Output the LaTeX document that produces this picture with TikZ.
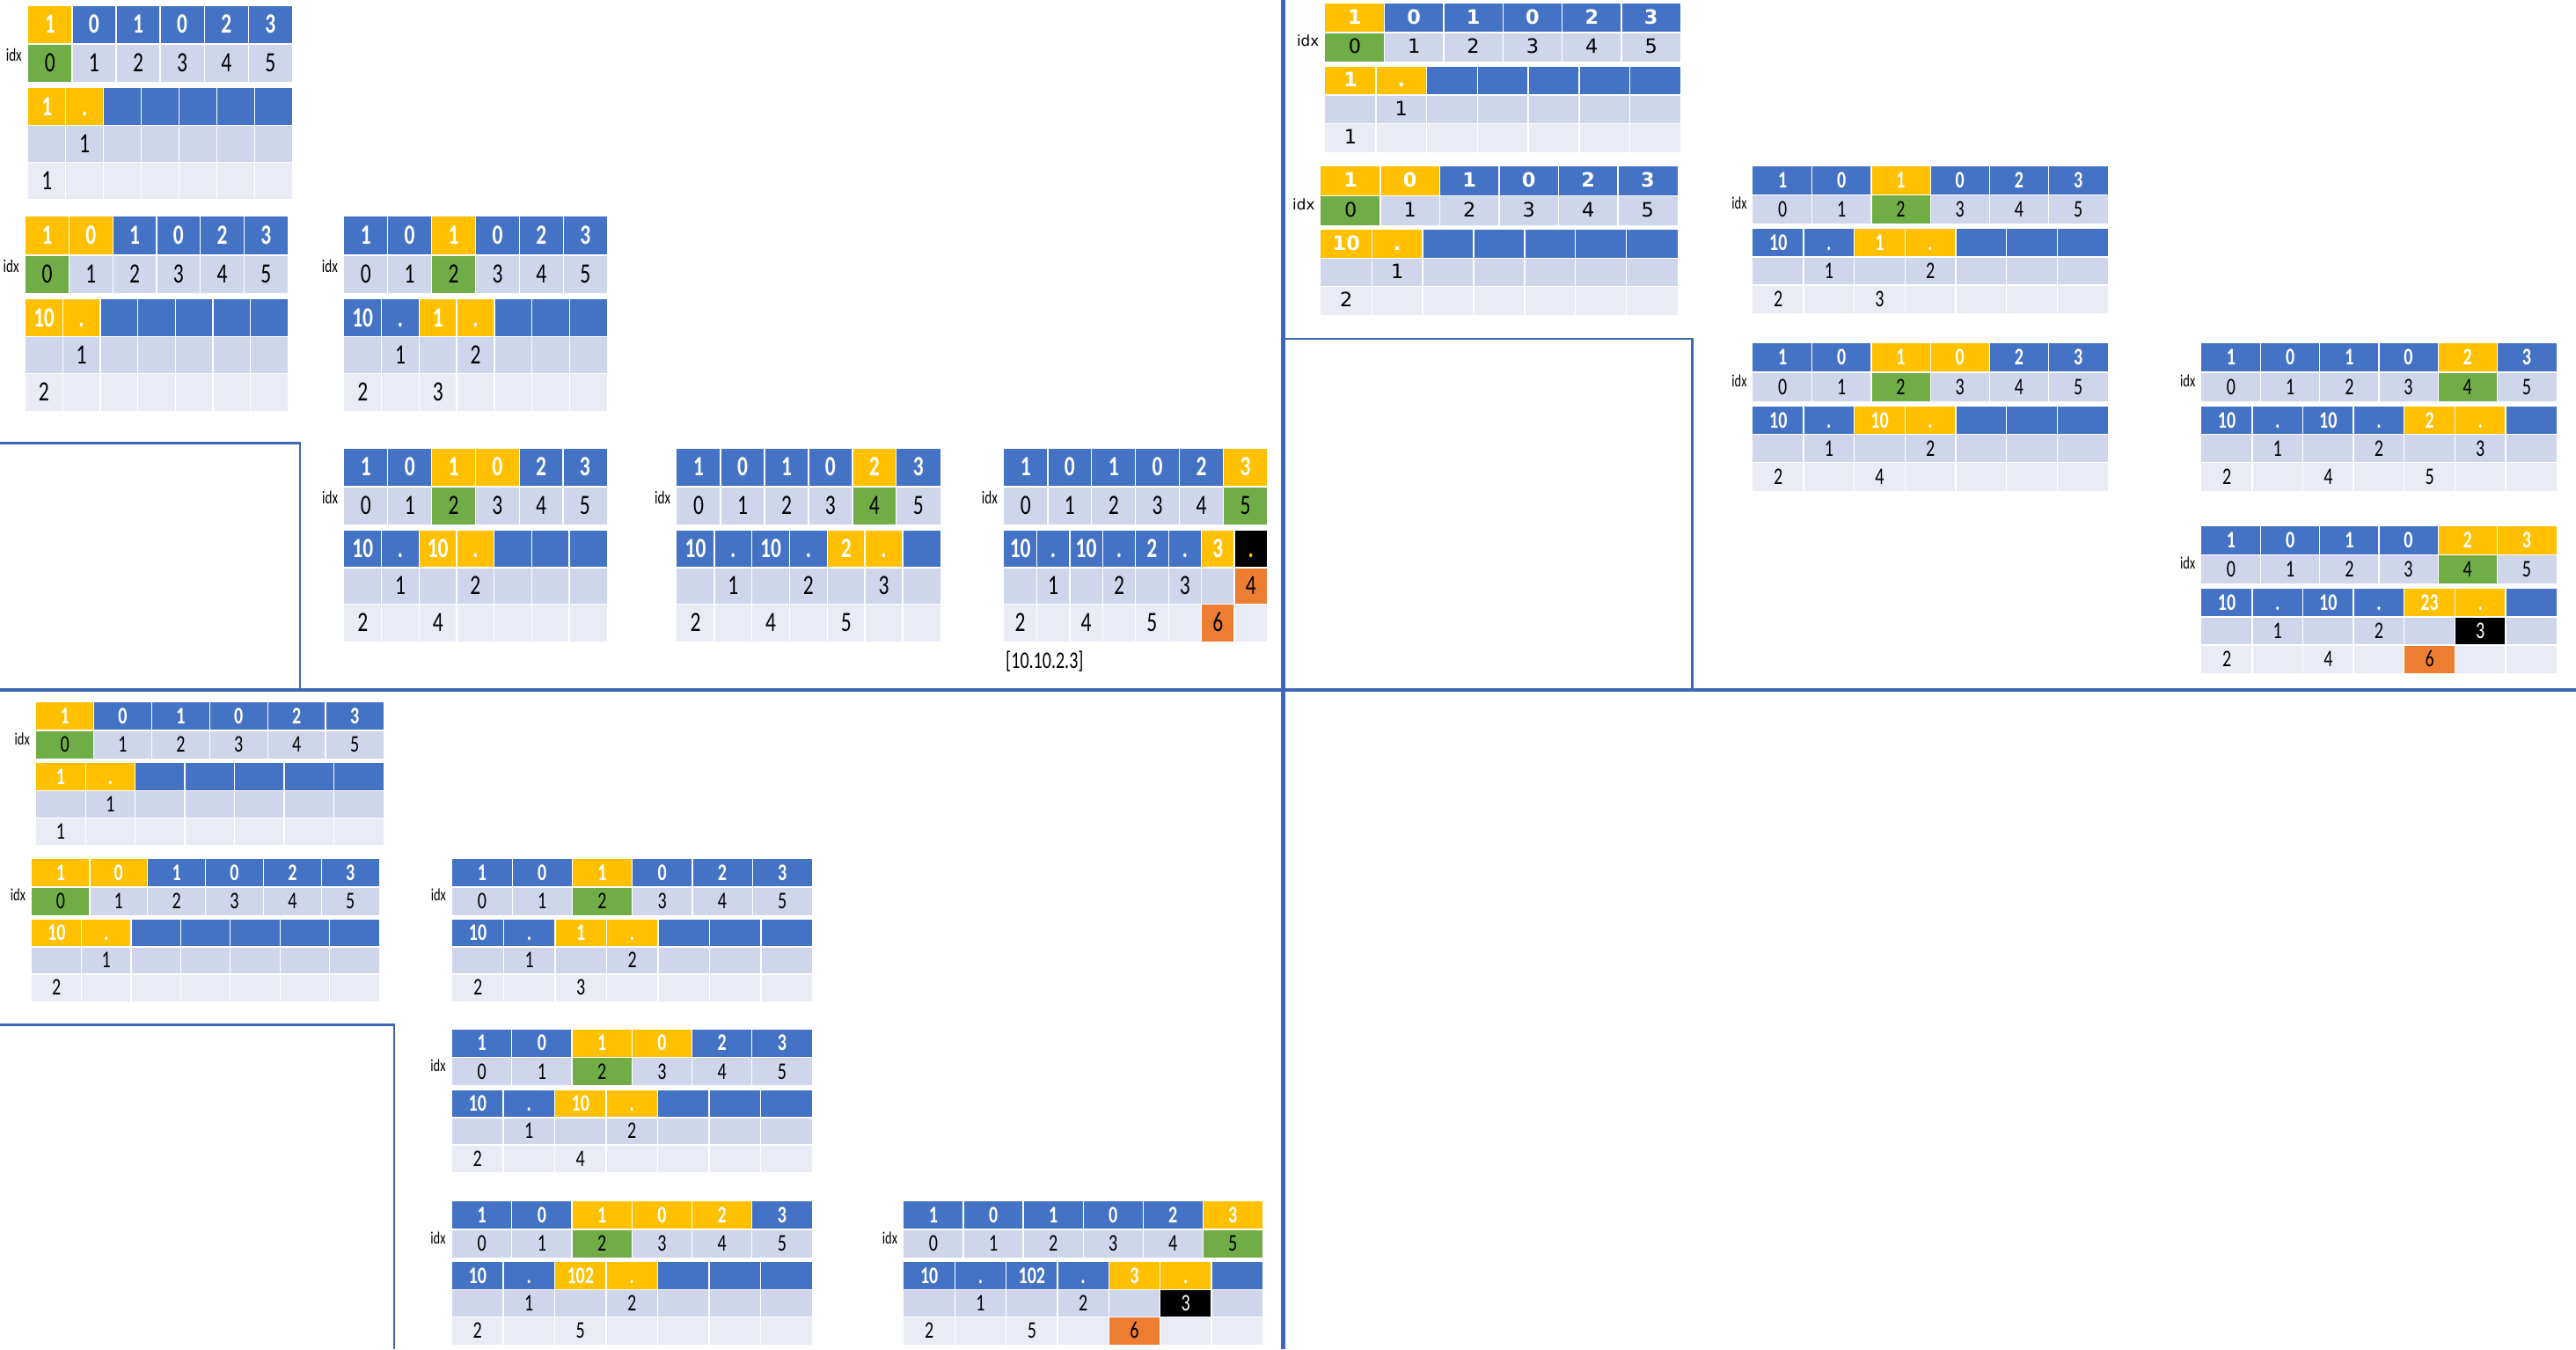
\documentclass[tikz,border=0pt]{standalone}
\usepackage{fontspec}
\newfontfamily\calF[FakeStretch=0.74]{Carlito}
\newfontfamily\dvF{DejaVu Sans}
\definecolor{hb}{HTML}{4472C4}
\definecolor{yl}{HTML}{FFC000}
\definecolor{gr}{HTML}{70AD47}
\definecolor{org}{HTML}{ED7D31}
\definecolor{bA}{HTML}{CFD5EA}
\definecolor{bB}{HTML}{E9EBF5}
\definecolor{ln}{HTML}{3E66B6}
% geometry: name, x, y, width, row height, cols in rows 3-5, font size, font, idx size
\newcommand\Geo[9]{\def\BlkN{#1}\def\BlkX{#2}\def\BlkY{#3}\def\BlkW{#4}\def\BlkH{#5}\def\BlkNC{#6}\def\BlkFs{#7}\def\BlkFont{#8}\def\BlkIdx{#9}}
% content: yellow cols row1, green col row2, row3 spec, row4 spec, row5 spec
\newcommand\Blk[5]{%
\begin{scope}[shift={(\BlkX,\BlkY)}]
  \pgfmathsetmacro\CellW{\BlkW/6}
  \pgfmathsetmacro\CellV{\BlkW/\BlkNC}
  \pgfmathsetmacro\RowB{1.05*\BlkH}
  \pgfmathsetmacro\RowC{2.22*\BlkH}
  \pgfmathsetmacro\RowD{3.22*\BlkH}
  \pgfmathsetmacro\RowE{4.22*\BlkH}
  \pgfmathsetmacro\RowF{5.22*\BlkH}
  \pgfmathsetmacro\BaseOff{0.5*\BlkH+0.31*\BlkFs}
  \pgfmathtruncatemacro\NSep{\BlkNC-1}
  % backgrounds
  \fill[hb] (0,0) rectangle (\BlkW,\BlkH);
  \foreach \i in {#1} {\fill[yl] ({(\i-1)*\CellW},0) rectangle ({\i*\CellW},\BlkH);}
  \fill[bA] (0,\RowB) rectangle (\BlkW,{\RowB+\BlkH});
  \fill[gr] ({(#2-1)*\CellW},\RowB) rectangle ({#2*\CellW},{\RowB+\BlkH});
  \fill[hb] (0,\RowC) rectangle (\BlkW,\RowD);
  \fill[bA] (0,\RowD) rectangle (\BlkW,\RowE);
  \fill[bB] (0,\RowE) rectangle (\BlkW,\RowF);
  \foreach \qc/\qf/\qt/\qk in {#3} {\fill[\qf] ({(\qc-1)*\CellV},\RowC) rectangle ({\qc*\CellV},\RowD);}
  \foreach \qc/\qf/\qt/\qk in {#4} {\fill[\qf] ({(\qc-1)*\CellV},\RowD) rectangle ({\qc*\CellV},\RowE);}
  \foreach \qc/\qf/\qt/\qk in {#5} {\fill[\qf] ({(\qc-1)*\CellV},\RowE) rectangle ({\qc*\CellV},\RowF);}
  % separators
  \foreach \i in {1,...,5} {\draw[sep] ({\i*\CellW},0) -- ({\i*\CellW},\BlkH) ({\i*\CellW},\RowB) -- ({\i*\CellW},{\RowB+\BlkH});}
  \foreach \i in {1,...,\NSep} {\draw[sep] ({\i*\CellV},\RowC) -- ({\i*\CellV},\RowF);}
  \draw[sep] (0,\RowD) -- (\BlkW,\RowD) (0,\RowE) -- (\BlkW,\RowE);
  % texts
  \foreach \d [count=\i] in {1,0,1,0,2,3}
    \node[celltxt, font=\BlkFont\bfseries\fontsize{\BlkFs}{\BlkFs}\selectfont, text=white] (\BlkN-a\i) at ({(\i-0.5)*\CellW},\BaseOff) {\d};
  \foreach \d [count=\i] in {0,...,5}
    \node[celltxt, font=\BlkFont\fontsize{\BlkFs}{\BlkFs}\selectfont] (\BlkN-b\i) at ({(\i-0.5)*\CellW},{\RowB+\BaseOff}) {\d};
  \node[anchor=east, inner sep=0pt, font=\BlkFont\fontsize{\BlkIdx}{\BlkIdx}\selectfont] (\BlkN-idx) at (-3.5,{\RowB+0.27*\BlkH}) {idx};
  \foreach \qc/\qf/\qt/\qk in {#3}
    \node[celltxt, font=\BlkFont\bfseries\fontsize{\BlkFs}{\BlkFs}\selectfont, text=\qk] (\BlkN-c\qc) at ({(\qc-0.5)*\CellV},{\RowC+\BaseOff}) {\qt};
  \foreach \qc/\qf/\qt/\qk in {#4}
    \node[celltxt, font=\BlkFont\fontsize{\BlkFs}{\BlkFs}\selectfont, text=\qk] (\BlkN-d\qc) at ({(\qc-0.5)*\CellV},{\RowD+\BaseOff}) {\qt};
  \foreach \qc/\qf/\qt/\qk in {#5}
    \node[celltxt, font=\BlkFont\fontsize{\BlkFs}{\BlkFs}\selectfont, text=\qk] (\BlkN-e\qc) at ({(\qc-0.5)*\CellV},{\RowE+\BaseOff}) {\qt};
\end{scope}}
% the recurring states
\newcommand\StA{\Blk{1}{1}{1/yl/1/white,2/yl/./white}{2/bA/1/black}{1/bB/1/black}}
\newcommand\StB{\Blk{1,2}{1}{1/yl/10/white,2/yl/./white}{2/bA/1/black}{1/bB/2/black}}
\newcommand\StC{\Blk{3}{3}{1/hb/10/white,2/hb/./white,3/yl/1/white,4/yl/./white}{2/bA/1/black,4/bA/2/black}{1/bB/2/black,3/bB/3/black}}
\newcommand\StD{\Blk{3,4}{3}{1/hb/10/white,2/hb/./white,3/yl/10/white,4/yl/./white}{2/bA/1/black,4/bA/2/black}{1/bB/2/black,3/bB/4/black}}
\newcommand\StE{\Blk{5}{5}{1/hb/10/white,2/hb/./white,3/hb/10/white,4/hb/./white,5/yl/2/white,6/yl/./white}{2/bA/1/black,4/bA/2/black,6/bA/3/black}{1/bB/2/black,3/bB/4/black,5/bB/5/black}}
\begin{document}
\begin{tikzpicture}[x=1pt,y=-1pt,
  sep/.style={white,line width=0.7pt},
  celltxt/.style={anchor=base,inner sep=0pt},
  div/.style={draw=ln,line width=2.3pt},
  ldiv/.style={draw=ln,line width=1.3pt}]
\useasboundingbox (0,0) rectangle (1568,821);
\fill[white] (0,0) rectangle (1568,821);
% ---------- top left ----------
\Geo{TLa}{17}{3.7}{161}{22.5}{7}{17}{\calF}{11}\StA
\Geo{TLb}{15.3}{132}{160}{22.6}{7}{17}{\calF}{11}\StB
\Geo{TLc}{209.3}{132}{160.3}{22.6}{7}{17}{\calF}{11}\StC
\Geo{TLd}{209.4}{273.2}{160}{22.4}{7}{17}{\calF}{11}\StD
\Geo{TLe}{411.9}{273.2}{160.4}{22.4}{7}{17}{\calF}{11}\StE
\Geo{TLf}{611}{273.2}{160.4}{22.4}{8}{17}{\calF}{11}
\Blk{6}{6}{1/hb/10/white,2/hb/./white,3/hb/10/white,4/hb/./white,5/hb/2/white,6/hb/./white,7/yl/3/white,8/black/./yl}{2/bA/1/black,4/bA/2/black,6/bA/3/black,8/org/4/black}{1/bB/2/black,3/bB/4/black,5/bB/5/black,7/org/6/black}
\node[anchor=west, inner sep=0pt, font=\calF\fontsize{14.5}{14.5}\selectfont] (res) at (612,402.6) {[10.10.2.3]};
% ---------- top right ----------
\Geo{TRa}{806.6}{2.1}{216.4}{17.3}{7}{12}{\dvF}{9}\StA
\Geo{TRb}{804}{101.4}{217}{17.3}{7}{12}{\dvF}{9}\StB
\Geo{TRc}{1067}{101}{216}{17.2}{7}{14.5}{\calF}{10.5}\StC
\Geo{TRd}{1067}{209}{216}{17.2}{7}{14.5}{\calF}{10.5}\StD
\Geo{TRe}{1340}{209}{216}{17.2}{7}{14.5}{\calF}{10.5}\StE
\Geo{TRf}{1340}{320}{216}{17.2}{7}{14.5}{\calF}{10.5}
\Blk{5,6}{5}{1/hb/10/white,2/hb/./white,3/hb/10/white,4/hb/./white,5/yl/23/white,6/yl/./white}{2/bA/1/black,4/bA/2/black,6/black/3/white}{1/bB/2/black,3/bB/4/black,5/org/6/black}
% ---------- bottom left ----------
\Geo{BLa}{21.8}{427.6}{211.7}{16.6}{7}{14.5}{\calF}{10.5}\StA
\Geo{BLb}{19.3}{522.8}{211.6}{16.6}{7}{14.5}{\calF}{10.5}\StB
\Geo{BLc}{275.2}{522.8}{219.3}{16.6}{7}{14.5}{\calF}{10.5}\StC
\Geo{BLd}{275}{626.3}{219.3}{16.7}{7}{14.5}{\calF}{10.5}\StD
\Geo{BLe}{275}{731.1}{219.3}{16.7}{7}{14.5}{\calF}{10.5}
\Blk{3,4,5}{3}{1/hb/10/white,2/hb/./white,3/yl/102/white,4/yl/./white}{2/bA/1/black,4/bA/2/black}{1/bB/2/black,3/bB/5/black}
\Geo{BLf}{550}{731.1}{218.6}{16.7}{7}{14.5}{\calF}{10.5}
\Blk{6}{6}{1/hb/10/white,2/hb/./white,3/hb/102/white,4/hb/./white,5/yl/3/white,6/yl/./white}{2/bA/1/black,4/bA/2/black,6/black/3/white}{1/bB/2/black,3/bB/5/black,5/org/6/black}
% ---------- dividers ----------
\draw[ldiv] (0,269.6) -- (182.6,269.6) -- (182.6,419);
\draw[ldiv] (782,206.2) -- (1030,206.2) -- (1030,419);
\draw[ldiv] (0,623.6) -- (240,623.6) -- (240,821);
\draw[div] (781,0) -- (781,821);
\draw[div] (0,420) -- (1568,420);
\end{tikzpicture}
\end{document}
